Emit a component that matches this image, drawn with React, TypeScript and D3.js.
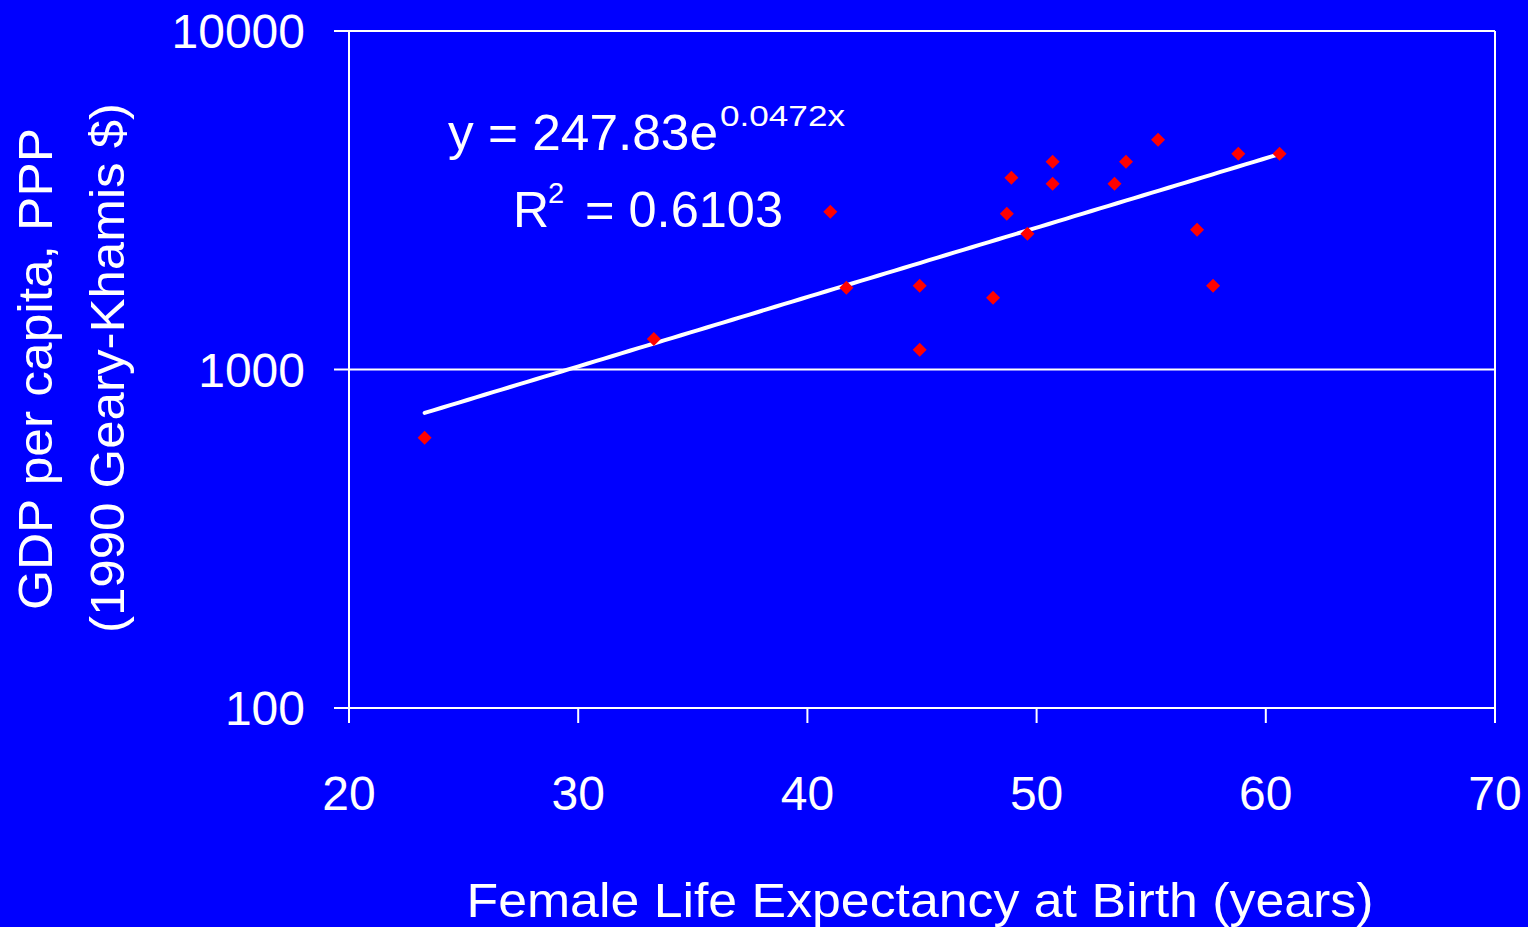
import React from "react";
import * as d3 from "d3";

const lifeExpectancy = [23.3, 33.3, 41.0, 41.7, 44.9, 44.9, 48.1, 48.7, 48.9, 49.6, 50.7, 50.7, 53.4, 53.9, 55.3, 57.0, 57.7, 58.8, 60.6];
const gdpPerCapita = [629, 1231, 2925, 1745, 1769, 1144, 1630, 2886, 3687, 2519, 4111, 3539, 3539, 4111, 4774, 2588, 1769, 4340, 4340];
const xTicks = [20, 30, 40, 50, 60, 70];
const yTicks = [100, 1000, 10000];
const trendA = 247.83;
const trendB = 0.0472;

const W = 1528;
const H = 927;
const FONT = "'Liberation Sans', Arial, Helvetica, sans-serif";

export default function App() {
  const x = d3.scaleLinear().domain([20, 70]).range([349, 1495]);
  const y = d3.scaleLog().domain([100, 10000]).range([708, 31]);

  const xMin = d3.min(lifeExpectancy) as number;
  const xMax = d3.max(lifeExpectancy) as number;
  const trendPts = d3.range(0, 101).map((i) => {
    const xv = xMin + ((xMax - xMin) * i) / 100;
    return [xv, trendA * Math.exp(trendB * xv)] as [number, number];
  });
  const line = d3
    .line<[number, number]>()
    .x((d) => x(d[0]))
    .y((d) => y(d[1]));

  const r = 7;
  const diamond = (cx: number, cy: number) =>
    `M${cx},${cy - r}L${cx + r},${cy}L${cx},${cy + r}L${cx - r},${cy}Z`;

  return (
    <svg
      width={W}
      height={H}
      style={{ position: "fixed", left: 0, top: 0, display: "block" }}
      fontFamily={FONT}
    >
      <rect x={0} y={0} width={W} height={H} fill="#0000FF" />
      {/* plot frame */}
      <line x1={x(20)} x2={x(70)} y1={y(10000)} y2={y(10000)} stroke="#fff" strokeWidth={2} />
      <line x1={x(70)} x2={x(70)} y1={y(10000)} y2={y(100)} stroke="#fff" strokeWidth={2} />
      {/* gridline */}
      <line x1={x(20)} x2={x(70)} y1={y(1000)} y2={y(1000)} stroke="#fff" strokeWidth={2} />
      {/* axes */}
      <line x1={x(20)} x2={x(20)} y1={y(10000)} y2={y(100)} stroke="#fff" strokeWidth={2} />
      <line x1={x(20) - 15} x2={x(70)} y1={y(100)} y2={y(100)} stroke="#fff" strokeWidth={2} />
      {yTicks.map((t) => (
        <g key={"y" + t}>
          <line x1={x(20) - 15} x2={x(20)} y1={y(t)} y2={y(t)} stroke="#fff" strokeWidth={2} />
          <text x={305} y={y(t) + 17} textAnchor="end" fill="#fff" fontSize={48}>
            {t}
          </text>
        </g>
      ))}
      {xTicks.map((t) => (
        <g key={"x" + t}>
          <line x1={x(t)} x2={x(t)} y1={y(100)} y2={y(100) + 15} stroke="#fff" strokeWidth={2} />
          <text x={x(t)} y={810} textAnchor="middle" fill="#fff" fontSize={48}>
            {t}
          </text>
        </g>
      ))}
      {/* trendline */}
      <path d={line(trendPts) || ""} fill="none" stroke="#fff" strokeWidth={4} strokeLinecap="round" />
      {/* points */}
      {lifeExpectancy.map((lv, i) => (
        <path key={i} d={diamond(x(lv), y(gdpPerCapita[i]))} fill="#FF0000" />
      ))}
      {/* equation */}
      <text x={448} y={150} fill="#fff" fontSize={50} textLength={270} lengthAdjust="spacingAndGlyphs">
        y = 247.83e
      </text>
      <text x={720} y={126} fill="#fff" fontSize={29} textLength={125} lengthAdjust="spacingAndGlyphs">
        0.0472x
      </text>
      <text x={513} y={227} fill="#fff" fontSize={50}>
        R
      </text>
      <text x={548} y={203} fill="#fff" fontSize={29}>
        2
      </text>
      <text x={585} y={227} fill="#fff" fontSize={50} textLength={198} lengthAdjust="spacingAndGlyphs">
        = 0.6103
      </text>
      {/* axis titles */}
      <text x={920} y={917} textAnchor="middle" fill="#fff" fontSize={48} textLength={907} lengthAdjust="spacingAndGlyphs">
        Female Life Expectancy at Birth (years)
      </text>
      <text
        transform="translate(52,369) rotate(-90)"
        textAnchor="middle"
        fill="#fff"
        fontSize={48}
        textLength={482}
        lengthAdjust="spacingAndGlyphs"
      >
        GDP per capita, PPP
      </text>
      <text
        transform="translate(124,368) rotate(-90)"
        textAnchor="middle"
        fill="#fff"
        fontSize={48}
        textLength={530}
        lengthAdjust="spacingAndGlyphs"
      >
        (1990 Geary-Khamis $)
      </text>
    </svg>
  );
}
